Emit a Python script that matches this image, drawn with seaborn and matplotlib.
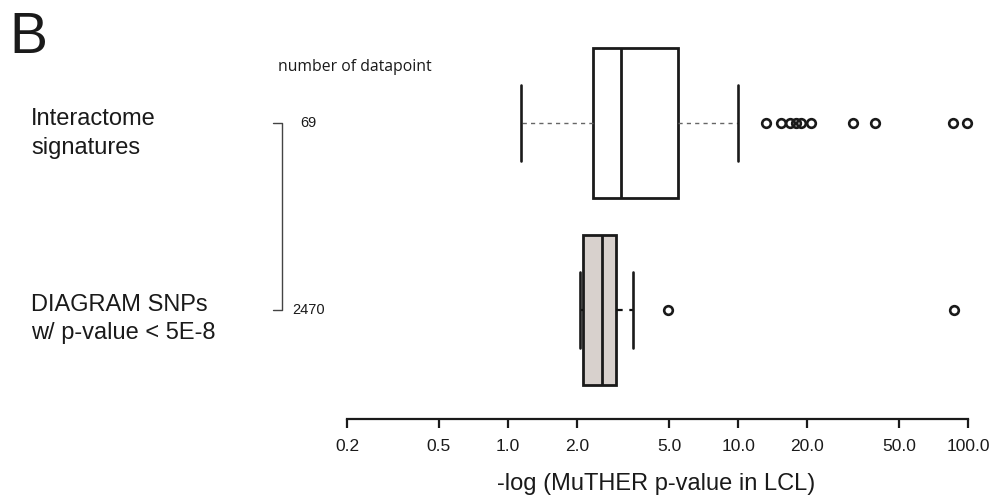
import matplotlib
matplotlib.use("Agg")
import matplotlib.pyplot as plt
from matplotlib.ticker import NullLocator
from matplotlib.transforms import blended_transform_factory
import seaborn as sns

# ---------------- data ----------------
groups = ["DIAGRAM SNPs\nw/ p-value < 5E-8", "Interactome\nsignatures"]
n_points = ["2470", "69"]
whislo = [2.05, 1.14]
q1 = [2.11, 2.34]
med = [2.56, 3.10]
q3 = [2.94, 5.45]
whishi = [3.48, 9.93]
fliers = [
    [4.93, 87.1],
    [13.2, 15.4, 16.8, 17.8, 18.8, 20.7, 31.4, 39.4, 85.9, 98.8],
]
tick_values = [0.2, 0.5, 1, 2, 5, 10, 20, 50, 100]
tick_labels = ["0.2", "0.5", "1.0", "2.0", "5.0", "10.0", "20.0", "50.0", "100.0"]
xlabel = "-log (MuTHER p-value in LCL)"
panel_letter = "B"
count_header = "number of datapoint"

# ---------------- style ----------------
sns.set_theme(style="white")
plt.rcParams["font.family"] = ["Liberation Sans", "DejaVu Sans"]

W, H = 997, 504
fig = plt.figure(figsize=(W / 100, H / 100), dpi=100)
fig.patch.set_facecolor("white")

ax_l, ax_r, ax_b, ax_t = 347.3, 968.3, 419.3, 40.0
ax = fig.add_axes([ax_l / W, 1 - ax_b / H, (ax_r - ax_l) / W, (ax_b - ax_t) / H])
ax.set_facecolor("white")
ax.set_xscale("log")
ax.set_xlim(0.2, 100)
ax.set_ylim(-0.5845, 1.4439)

positions = [0, 1]
fills = ["#d8d1cd", "white"]
whisk_col = ["#111111", "#666666"]
whisk_lw = [1.6, 1.0]

for i in range(2):
    stats = [dict(label=groups[i], whislo=whislo[i], q1=q1[i], med=med[i],
                  q3=q3[i], whishi=whishi[i], fliers=fliers[i])]
    kw = dict(positions=[positions[i]], widths=0.80, capwidths=0.41,
              patch_artist=True, manage_ticks=False,
              boxprops=dict(facecolor=fills[i], edgecolor="#1a1a1a", linewidth=2.0),
              medianprops=dict(color="#1a1a1a", linewidth=2.0),
              whiskerprops=dict(color=whisk_col[i], linewidth=whisk_lw[i],
                                linestyle=(0, (3, 3))),
              capprops=dict(color="#1a1a1a", linewidth=1.9),
              flierprops=dict(marker="o", markerfacecolor="none",
                              markeredgecolor="#1a1a1a", markersize=6.2,
                              markeredgewidth=1.9))
    try:
        arts = ax.bxp(stats, orientation="horizontal", **kw)
    except TypeError:
        arts = ax.bxp(stats, vert=False, **kw)
    for key in arts:
        for a in arts[key]:
            a.set_clip_on(False)

sns.despine(ax=ax, left=True, top=True, right=True)
ax.spines["bottom"].set_linewidth(1.6)
ax.spines["bottom"].set_color("#1a1a1a")
ax.set_yticks([])
ax.set_xticks(tick_values)
ax.set_xticklabels(tick_labels)
ax.xaxis.set_minor_locator(NullLocator())
ax.tick_params(axis="x", which="major", direction="out", length=6.5, width=1.6,
               color="#1a1a1a", labelsize=12.5, labelcolor="#1a1a1a", pad=8,
               bottom=True)
ax.grid(False)

txt = "#1a1a1a"
# x label
fig.text((ax_l + ax_r) / 2 / W - 0.002, 1 - 484 / H, xlabel, ha="center", va="center",
         fontsize=17, color=txt)

# panel letter
fig.text(9 / W, 1 - 53.3 / H, panel_letter, fontsize=41, va="baseline", color=txt)

# group labels (left)
label_baselines = [(311, 339.5), (125, 154)]
for i in range(2):
    for line, yb in zip(groups[i].split("\n"), label_baselines[i]):
        fig.text(31 / W, 1 - yb / H, line, fontsize=17, va="baseline", color=txt)

# counts header and counts
fig.text(277.5 / W, 1 - 67.3 / H, count_header, fontsize=11.3, va="center",
         family=["Open Sans", "DejaVu Sans"], color=txt)
bt = blended_transform_factory(fig.transFigure, ax.transData)
for i in range(2):
    fig.text(308.5 / W, positions[i], n_points[i], transform=bt, ha="center",
             va="center", fontsize=10.5, color=txt)

# bracket joining the two groups
bx, bx0 = 282.3 / W, 272.7 / W
ax.plot([bx0, bx, bx, bx0], [positions[1], positions[1], positions[0], positions[0]],
        transform=bt, color="#444444", linewidth=1.0, clip_on=False)

fig.savefig("out.png", dpi=100, facecolor="white")
